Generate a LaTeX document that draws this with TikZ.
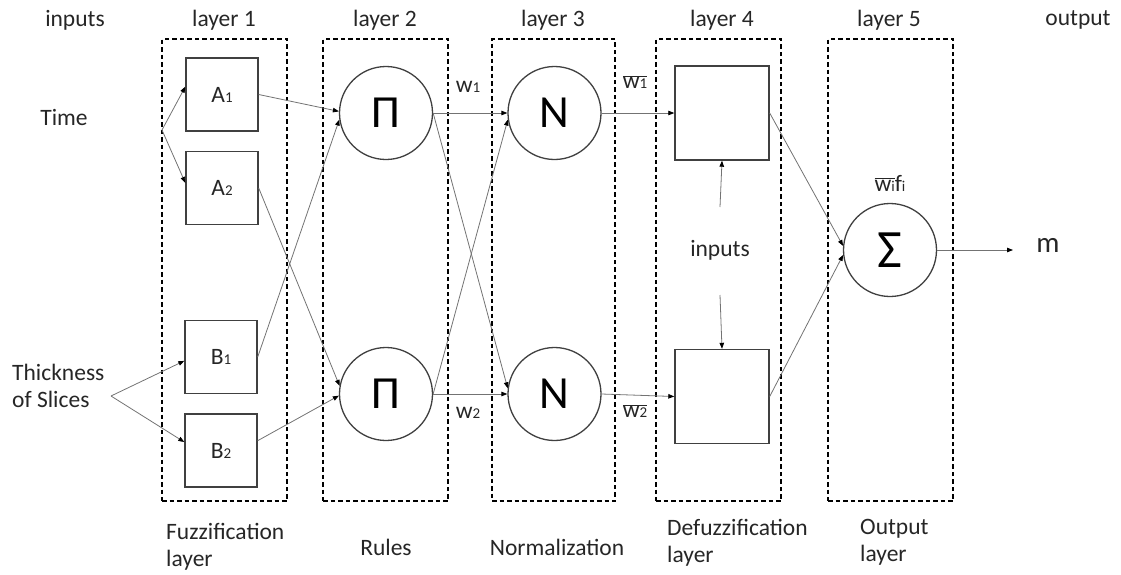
\documentclass[tikz,border=0pt]{standalone}
\usepackage{fontspec}
\setmainfont{Carlito}
\usetikzlibrary{arrows.meta}
\newcommand\sbs[1]{{\fontsize{15}{15}\selectfont #1}}
\newcommand\wbar[1]{$\overline{\hbox{#1}}$}
\begin{document}
\begin{tikzpicture}[x=1pt,y=-1pt,
  txt/.style={font=\fontsize{23.5}{27}\selectfont, inner sep=0pt, text=black!85},
  layerbox/.style={draw=black, dash pattern=on 4.5pt off 3pt, line width=1.2pt, minimum width=125pt, minimum height=462pt, inner sep=0pt},
  mf/.style={draw=black!75, line width=1.4pt, minimum width=72pt, minimum height=73pt, inner sep=0pt, font=\fontsize{23.5}{27}\selectfont, text=black!85},
  neuron/.style={circle, draw=black!75, line width=1.3pt, minimum size=93pt, inner sep=0pt, font=\fontsize{46}{50}\selectfont},
  defuz/.style={draw=black!75, line width=1.4pt, minimum width=94pt, minimum height=94pt, inner sep=0pt},
  conn/.style={draw=black!55, line width=0.8pt, -{Triangle[length=6pt,width=4.5pt,color=black]}},
]
\useasboundingbox (0,0) rectangle (1121,574);

% headings
\node[txt] (hin) at (75,20) {inputs};
\node[txt] (h1) at (224,20) {layer 1};
\node[txt] (h2) at (385,20) {layer 2};
\node[txt] (h3) at (553,20) {layer 3};
\node[txt] (h4) at (722,20) {layer 4};
\node[txt] (h5) at (889,20) {layer 5};
\node[txt] (hout) at (1078,20) {output};

% layer boxes
\node[layerbox] (L1) at (224.5,270) {};
\node[layerbox] (L2) at (385.5,270) {};
\node[layerbox, minimum width=123pt] (L3) at (553.5,270) {};
\node[layerbox] (L4) at (718.5,270) {};
\node[layerbox] (L5) at (890.5,270) {};

% inputs
\node[txt] (time) at (64,117) {Time};
\node[txt, anchor=west, align=left] (thick) at (12,386) {Thickness\\of Slices};
\coordinate (tf) at (162,130);
\coordinate (sf) at (111,396);

% layer 1
\node[mf] (A1) at (222,94.5) {A\sbs{1}};
\node[mf] (A2) at (222,188) {A\sbs{2}};
\node[mf] (B1) at (221,357) {B\sbs{1}};
\node[mf] (B2) at (221,450.5) {B\sbs{2}};

% layer 2
\node[neuron] (P1) at (386,113) {Π};
\node[neuron] (P2) at (386,394) {Π};

% layer 3
\node[neuron] (N1) at (554.5,113) {N};
\node[neuron] (N2) at (554.5,394) {N};

% layer 4
\node[defuz] (D1) at (722,113) {};
\node[defuz] (D2) at (722,396.5) {};
\node[txt] (din) at (720,250) {inputs};
\coordinate (du) at (720,207);
\coordinate (dd) at (720,295);

% layer 5
\node[neuron, font=\fontsize{54}{58}\selectfont] (S) at (890,250) {Σ};
\node[txt] (wf) at (890,183) {\wbar{w\sbs{i}}f\sbs{i}};
\coordinate (out) at (1013,250);
\node[txt, font=\fontsize{29}{32}\selectfont] (m) at (1048,245) {m};

% labels on links
\node[txt] (w1) at (468,87) {w\sbs{1}};
\node[txt] (w2) at (468,413) {w\sbs{2}};
\node[txt] (wb1) at (635,82) {\wbar{w\sbs{1}}};
\node[txt] (wb2) at (635,411) {\wbar{w\sbs{2}}};

% bottom labels
\node[txt, anchor=west, align=left] (bl1) at (166,546.5) {Fuzzification\\layer};
\node[txt] (bl2) at (386,547) {Rules};
\node[txt] (bl3) at (557,547) {Normalization};
\node[txt, anchor=west, align=left] (bl4) at (667,542.5) {Defuzzification\\layer};
\node[txt, anchor=west, align=left] (bl5) at (860,542.5) {Output\\layer};

% connectors
\draw[conn] (tf) -- (A1.168);
\draw[conn] (tf) -- (A2.172);
\draw[conn] (sf) -- (B1.186);
\draw[conn] (sf) -- (B2.167);

\draw[conn] (A1.east) -- (P1.178);
\draw[conn] (B1.east) -- (P1.188);
\draw[conn] (A2.east) -- (P2.170);
\draw[conn] (B2.15) -- (P2.182);

\draw[conn] (P1.east) -- (N1.west);
\draw[conn] (P1.east) -- (N2.173);
\draw[conn] (P2.east) -- (N1.188);
\draw[conn] (P2.east) -- (N2.west);

\draw[conn] (N1.east) -- (D1.west);
\draw[conn] (N2.east) -- (D2.west);

\draw[conn] (du) -- (D1.south);
\draw[conn] (dd) -- (D2.north);

\draw[conn] (D1.east) -- (S.175);
\draw[conn] (D2.east) -- (S.186);
\draw[conn] (S.east) -- (out);
\end{tikzpicture}
\end{document}
